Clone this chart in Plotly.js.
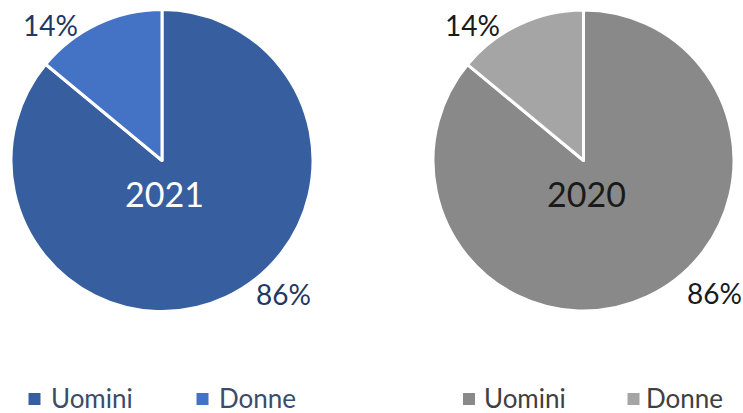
<!DOCTYPE html>
<html>
<head>
<meta charset="utf-8">
<script src="https://cdn.plot.ly/plotly-3.0.1.min.js"></script>
<style>html,body{margin:0;padding:0;background:#fff;}#chart{width:743px;height:413px;}</style>
</head>
<body>
<div id="chart"></div>
<script>
// Data
const categories = ['Uomini', 'Donne'];
const values2021 = [86, 14];
const values2020 = [86, 14];
const years = ['2021', '2020'];

const colors2021 = ['#375E9F', '#4472C4'];
const colors2020 = ['#898989', '#A5A5A5'];
const W = 743, H = 413;
const FONT = 'Lato, "Open Sans", sans-serif';
const px = v => v / W;
const py = v => 1 - v / H;

function pct(vals, i) {
  const t = vals.reduce((a, b) => a + b, 0);
  return Math.round(vals[i] / t * 100) + '%';
}

const pieBase = {
  type: 'pie', labels: categories, sort: false, direction: 'clockwise', rotation: 0,
  textinfo: 'none', hoverinfo: 'label+percent', showlegend: false
};

const traces = [
  Object.assign({}, pieBase, {
    values: values2021,
    marker: {colors: colors2021, line: {color: '#ffffff', width: 3}},
    domain: {x: [px(11), px(313)], y: [py(312), py(9)]}
  }),
  Object.assign({}, pieBase, {
    values: values2020,
    marker: {colors: colors2020, line: {color: '#ffffff', width: 3}},
    domain: {x: [px(433), px(734)], y: [py(312), py(9)]}
  })
];

const navy = '#1F3864', dark = '#1a1a1a';
const ann = (x, y, text, size, color, xanchor) => ({
  xref: 'paper', yref: 'paper', x: px(x), y: py(y), text: text, showarrow: false,
  xanchor: xanchor || 'center', yanchor: 'middle', font: {family: FONT, size: size, color: color}
});

const annotations = [
  ann(50, 25, pct(values2021, 1), 28, navy),
  ann(283, 294, pct(values2021, 0), 28, navy),
  ann(164, 193, years[0], 34, '#ffffff'),
  ann(472, 25, pct(values2020, 1), 28, dark),
  ann(714, 293, pct(values2020, 0), 28, dark),
  ann(586, 193, years[1], 34, dark),
  // legends
  ann(49, 398, categories[0], 26, '#3B4B6B', 'left'),
  ann(217, 398, categories[1], 26, '#3B4B6B', 'left'),
  ann(482, 398, categories[0], 26, '#404040', 'left'),
  ann(644, 398, categories[1], 26, '#404040', 'left')
];

const sq = (cx, cy, color) => ({
  type: 'rect', xref: 'paper', yref: 'paper',
  x0: px(cx - 6), x1: px(cx + 6), y0: py(cy + 6), y1: py(cy - 6),
  fillcolor: color, line: {width: 0}
});
const shapes = [
  sq(34.5, 399, colors2021[0]), sq(202.5, 399, colors2021[1]),
  sq(469, 399, colors2020[0]), sq(633.5, 399, colors2020[1])
];

const layout = {
  width: W, height: H, margin: {l: 0, r: 0, t: 0, b: 0},
  paper_bgcolor: '#ffffff', plot_bgcolor: '#ffffff',
  showlegend: false, annotations: annotations, shapes: shapes,
  font: {family: FONT}
};

Plotly.newPlot('chart', traces, layout, {displayModeBar: false, staticPlot: true});
</script>
</body>
</html>
